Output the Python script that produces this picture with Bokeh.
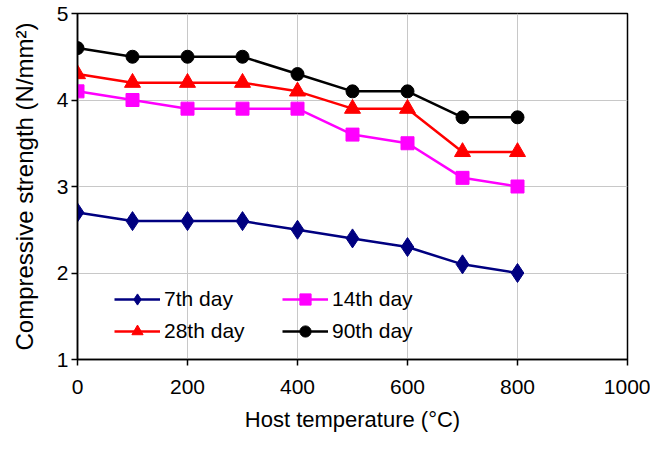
from bokeh.plotting import figure
from bokeh.models import Range1d, FixedTicker, Legend, LegendItem
from bokeh.embed import file_html
from bokeh.resources import INLINE

temps = [0, 100, 200, 300, 400, 500, 600, 700, 800]
day7 = [2.7, 2.6, 2.6, 2.6, 2.5, 2.4, 2.3, 2.1, 2.0]
day14 = [4.1, 4.0, 3.9, 3.9, 3.9, 3.6, 3.5, 3.1, 3.0]
day28 = [4.3, 4.2, 4.2, 4.2, 4.1, 3.9, 3.9, 3.4, 3.4]
day90 = [4.6, 4.5, 4.5, 4.5, 4.3, 4.1, 4.1, 3.8, 3.8]
labels = ["7th day", "14th day", "28th day", "90th day"]
x_ticks = [0, 200, 400, 600, 800, 1000]
y_ticks = [1, 2, 3, 4, 5]

FONT = "Liberation Sans"

p = figure(width=650, height=434, output_backend="svg", toolbar_location=None,
           x_range=Range1d(0, 1000), y_range=Range1d(1, 5),
           min_border_left=77, min_border_right=23, min_border_top=13, min_border_bottom=75)
p.background_fill_color = "white"
p.border_fill_color = "white"
p.outline_line_color = "black"
p.outline_line_width = 1.5

p.xaxis.ticker = FixedTicker(ticks=x_ticks)
p.yaxis.ticker = FixedTicker(ticks=y_ticks)
for ax in (p.xaxis[0], p.yaxis[0]):
    ax.axis_line_color = "black"
    ax.axis_line_width = 1.5
    ax.major_tick_line_color = "black"
    ax.major_tick_line_width = 1.5
    ax.major_tick_out = 6
    ax.major_tick_in = 0
    ax.minor_tick_line_color = None
    ax.major_label_text_font = FONT
    ax.major_label_text_font_size = "21px"
    ax.major_label_text_color = "black"
    ax.axis_label_text_font = FONT
    ax.axis_label_text_font_style = "normal"
    ax.axis_label_text_color = "black"
p.xaxis.major_label_standoff = 14
p.yaxis.major_label_standoff = 3
p.xaxis.axis_label = "Host temperature (\u00b0C)"
p.xaxis.axis_label_text_font_size = "22px"
p.xaxis.axis_label_standoff = 10
p.yaxis.axis_label = "Compressive strength (N/mm\u00b2)"
p.yaxis.axis_label_text_font_size = "24px"
p.yaxis.axis_label_standoff = 16

p.xgrid.ticker = FixedTicker(ticks=x_ticks)
p.ygrid.ticker = FixedTicker(ticks=y_ticks)
p.grid.grid_line_color = "#c8c8c8"
p.grid.grid_line_width = 1

series = [
    (day7, "#000080", "diamond", 19),
    (day14, "#ff00ff", "square", 13),
    (day28, "#ff0000", "triangle", 16),
    (day90, "#000000", "circle", 13),
]
renderers = {}
for (vals, col, marker, size), lab in zip(series, labels):
    r1 = p.line(temps, vals, line_color=col, line_width=2.5)
    r2 = p.scatter(temps, vals, marker=marker, size=size, fill_color=col, line_color=col)
    renderers[lab] = [r1, r2]

# column-major fill: left column 7th/28th, right column 14th/90th
order = [labels[0], labels[2], labels[1], labels[3]]
items = [LegendItem(label=lab, renderers=renderers[lab]) for lab in order]

legend = Legend(items=items, location=(37, 14), ncols=2, orientation="vertical",
                border_line_color=None, background_fill_alpha=0,
                label_text_font=FONT, label_text_font_size="21px",
                label_text_color="black",
                glyph_width=46, glyph_height=28, label_standoff=4,
                label_width=114, spacing=4, padding=4, margin=0)
p.add_layout(legend)

open("out.html", "w").write(file_html(p, INLINE))
